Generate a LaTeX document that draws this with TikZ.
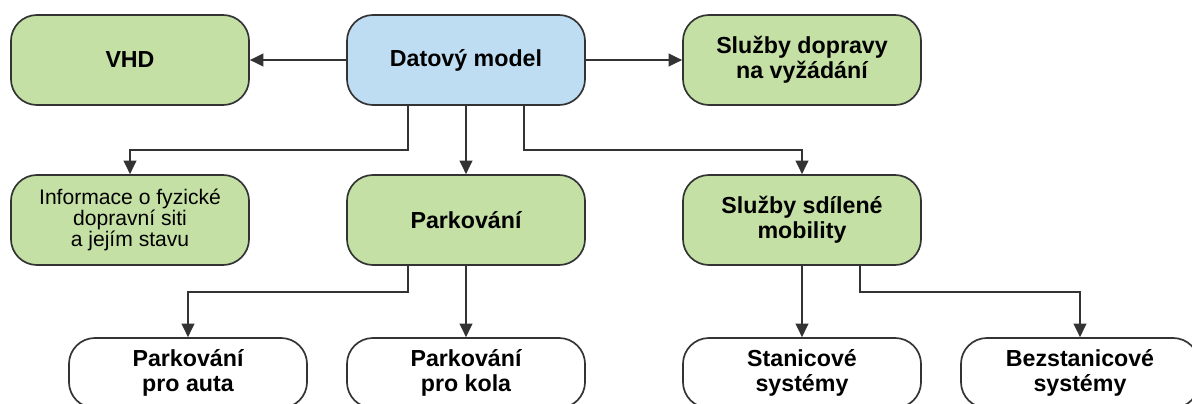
\documentclass[tikz,border=0pt]{standalone}
\usepackage{fontspec}
\setmainfont{Liberation Sans}
\usetikzlibrary{arrows.meta}
\definecolor{boxgreen}{RGB}{197,224,165}
\definecolor{boxblue}{RGB}{190,221,243}
\definecolor{edge}{RGB}{51,51,51}
\begin{document}
\begin{tikzpicture}[x=0.025cm,y=-0.025cm,
    box/.style={draw=edge,line width=1.2pt,rounded corners=0.65cm,align=center,
        minimum width=5.95cm,minimum height=2.25cm,inner sep=2pt,
        font=\fontsize{16.5}{17.5}\selectfont\bfseries},
    green/.style={box,fill=boxgreen},
    plain/.style={box,fill=white,minimum height=1.75cm},
    arr/.style={draw=edge,line width=1.2pt,-{Triangle[length=0.34cm,width=0.32cm]}}]
    \useasboundingbox[fill=white] (0,0) rectangle (1192,403);
    % top row
    \node[box,fill=boxblue] (dm) at (466,60) {Datový model};
    \node[green] (vhd) at (130,60) {VHD};
    \node[green] (ddv) at (802,60) {Služby dopravy\\na vyžádání};
    % middle row
    \node[green,font=\fontsize{15}{14}\selectfont] (info) at (130,220) {Informace o fyzické\\dopravní siti\\a jejím stavu};
    \node[green] (park) at (466,220) {Parkování};
    \node[green] (sdm) at (802,220) {Služby sdílené\\mobility};
    % bottom row
    \node[plain] (auta) at (188,373) {Parkování\\pro auta};
    \node[plain] (kola) at (466,373) {Parkování\\pro kola};
    \node[plain] (stan) at (802,373) {Stanicové\\systémy};
    \node[plain] (bez) at (1080,373) {Bezstanicové\\systémy};
    % connectors
    \draw[arr] (dm) -- (vhd);
    \draw[arr] (dm) -- (ddv);
    \draw[arr] ([xshift=-1.45cm]dm.south) -- ++(0,44) -| (info.north);
    \draw[arr] (dm) -- (park);
    \draw[arr] ([xshift=1.45cm]dm.south) -- ++(0,44) -| (sdm.north);
    \draw[arr] ([xshift=-1.45cm]park.south) -- ++(0,26) -| (auta.north);
    \draw[arr] (park) -- (kola);
    \draw[arr] (sdm) -- (stan);
    \draw[arr] ([xshift=1.45cm]sdm.south) -- ++(0,26) -| (bez.north);
\end{tikzpicture}
\end{document}
